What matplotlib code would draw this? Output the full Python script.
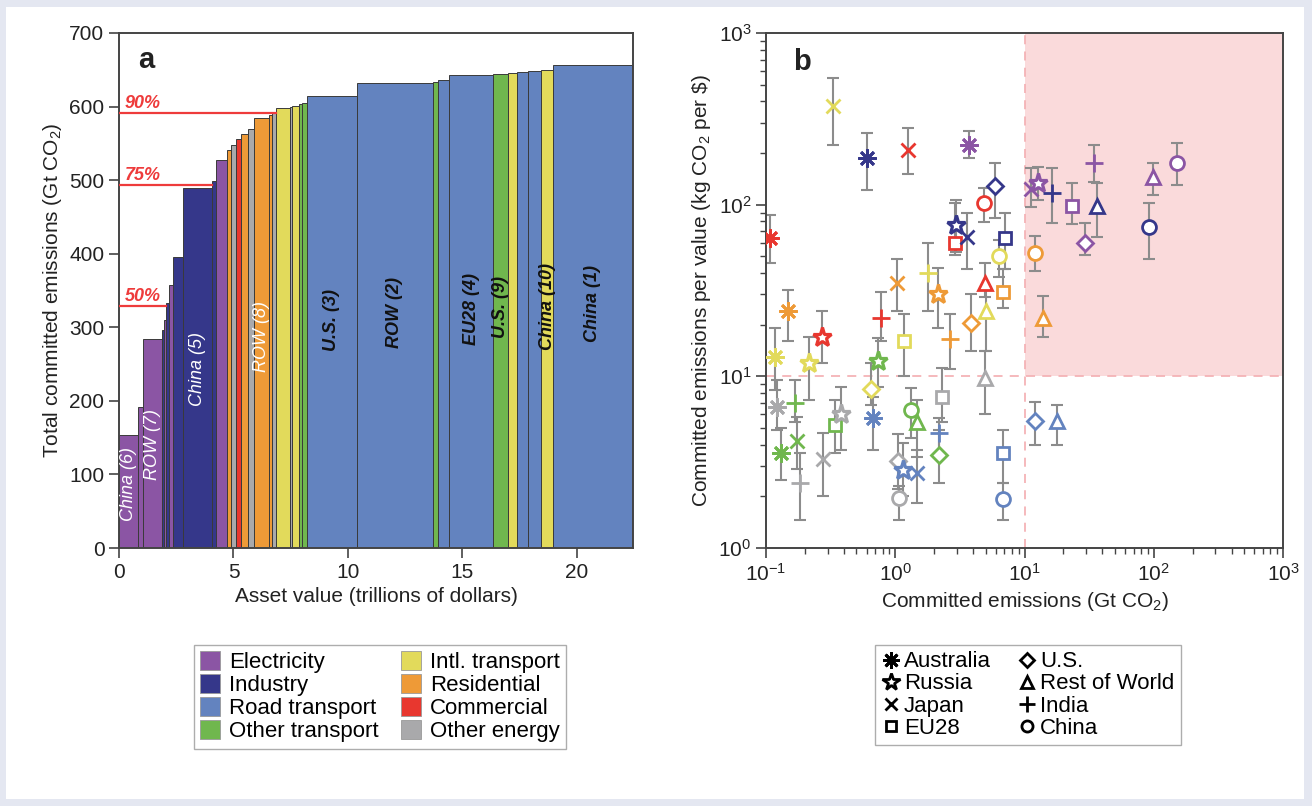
import matplotlib
matplotlib.use("Agg")
import matplotlib.pyplot as plt
import numpy as np
from matplotlib.patches import Patch, Rectangle
from matplotlib.lines import Line2D

plt.rcParams['font.family'] = ['Liberation Sans', 'DejaVu Sans']
plt.rcParams['mathtext.default'] = 'regular'

# Sectors (shared by both panels)
sector_names = ['Electricity', 'Industry', 'Road transport', 'Other transport',
                'Intl. transport', 'Residential', 'Commercial', 'Other energy']
sector_colors = ['#8b55a4', '#35378a', '#6383bf', '#70b74e',
                 '#e2da5b', '#ee9a37', '#e8372f', '#a9a9ab']

# Panel a: one bar per asset group (asset value in trillions $, emissions in Gt CO2)
a_sector = ['Electricity', 'Electricity', 'Electricity', 'Industry', 'Electricity',
            'Industry', 'Electricity', 'Industry', 'Industry', 'Industry',
            'Electricity', 'Residential', 'Other energy', 'Commercial', 'Residential',
            'Other energy', 'Residential', 'Residential', 'Other energy', 'Intl. transport',
            'Other energy', 'Intl. transport', 'Other transport', 'Other transport', 'Road transport',
            'Road transport', 'Other transport', 'Road transport', 'Road transport', 'Other transport',
            'Intl. transport', 'Road transport', 'Road transport', 'Intl. transport', 'Road transport']
a_value = [0.85, 0.20, 0.83, 0.09, 0.08, 0.13, 0.18, 0.43, 1.27, 0.18,
           0.48, 0.19, 0.22, 0.22, 0.30, 0.25, 0.65, 0.15, 0.15, 0.60,
           0.10, 0.30, 0.15, 0.20, 2.20, 3.30, 0.25, 0.45, 1.95, 0.65,
           0.40, 0.45, 0.60, 0.50, 3.45]
a_emis = [154, 38, 92, 12, 14, 23, 25, 37, 94, 10,
          29, 13, 7, 8, 7, 6, 15, 4, 3, 7,
          1, 2, 2, 2, 10, 17, 2, 2, 7, 1.5,
          1, 1, 1.5, 1.5, 7.5]

a_label_bar = [0, 2, 8, 16, 24, 25, 28, 29, 33, 34]
a_label_text = ['China (6)', 'ROW (7)', 'China (5)', 'ROW (8)', 'U.S. (3)',
                'ROW (2)', 'EU28 (4)', 'U.S. (9)', 'China (10)', 'China (1)']
a_label_y = [87, 140, 243, 288, 310, 320, 325, 328, 328, 333]
a_label_dark = [False, False, False, False, True, True, True, True, True, True]
pct_levels = [0.5, 0.75, 0.9]

# Panel b: committed emissions (Gt CO2) vs emissions per value (kg CO2 per $)
country_names = ['Australia', 'Russia', 'Japan', 'EU28', 'U.S.', 'Rest of World', 'India', 'China']
country_markers = [(8, 2, 0), '*', 'x', 's', 'D', '^', '+', 'o']

b_country = ['Japan', 'Australia', 'Japan', 'Australia', 'U.S.', 'China', 'Japan', 'Russia',
             'India', 'EU28', 'India', 'Rest of World', 'U.S.', 'China', 'Rest of World',
             'Rest of World', 'China', 'China', 'U.S.', 'Rest of World', 'Australia', 'Russia',
             'EU28', 'Japan', 'EU28', 'China', 'Rest of World', 'EU28', 'Rest of World', 'U.S.',
             'Rest of World', 'India', 'Russia', 'India', 'Japan', 'EU28', 'India', 'Russia',
             'U.S.', 'Australia', 'Australia', 'Russia', 'Australia', 'Russia', 'Australia',
             'India', 'Australia', 'Japan', 'India', 'Japan', 'EU28', 'Russia', 'U.S.',
             'Russia', 'Japan', 'China', 'China', 'Rest of World', 'EU28', 'India', 'U.S.',
             'EU28', 'China']
b_sector = ['Intl. transport', 'Industry', 'Commercial', 'Electricity', 'Industry', 'Commercial',
            'Electricity', 'Electricity', 'Industry', 'Electricity', 'Electricity', 'Industry',
            'Electricity', 'Residential', 'Residential', 'Electricity', 'Electricity', 'Industry',
            'Road transport', 'Road transport', 'Commercial', 'Industry', 'Commercial', 'Industry',
            'Industry', 'Intl. transport', 'Commercial', 'Residential', 'Intl. transport',
            'Residential', 'Other energy', 'Residential', 'Residential', 'Intl. transport',
            'Residential', 'Intl. transport', 'Commercial', 'Other transport', 'Intl. transport',
            'Road transport', 'Residential', 'Commercial', 'Intl. transport', 'Intl. transport',
            'Other energy', 'Other transport', 'Other transport', 'Other transport', 'Other energy',
            'Other energy', 'Other transport', 'Other energy', 'Other energy', 'Road transport',
            'Road transport', 'Other energy', 'Other transport', 'Other transport', 'Other energy',
            'Road transport', 'Other transport', 'Road transport', 'Road transport']
b_x = [0.33, 0.60, 1.26, 3.72, 5.91, 4.86, 11.2, 12.7, 16.3, 23.3, 34.5, 36.4, 29.4, 12.1,
       13.9, 98.7, 151, 91.9, 12.1, 17.8, 0.107, 2.95, 2.9, 3.59, 7.06, 6.35, 4.95, 6.82,
       5.04, 3.86, 4.95, 2.65, 2.14, 1.79, 1.03, 1.17, 0.776, 0.736, 0.649, 0.673, 0.148,
       0.271, 0.117, 0.215, 0.122, 0.168, 0.131, 0.174, 0.183, 0.276, 0.342, 0.38, 1.05,
       1.15, 1.47, 1.07, 1.32, 1.47, 2.3, 2.18, 2.18, 6.82, 6.82]
b_y = [376, 187, 208, 223, 128, 102, 123, 134, 117, 98, 175, 98, 60, 52, 21.9, 145, 175,
       74, 5.5, 5.5, 64, 76, 60, 65, 64, 50, 35, 31, 24, 20.5, 9.8, 16.5, 30, 40, 35, 16,
       22, 12.3, 8.4, 5.7, 24, 17, 13, 12, 6.6, 7.0, 3.6, 4.2, 2.4, 3.3, 5.2, 6.0, 3.2,
       2.85, 2.73, 1.96, 6.4, 5.4, 7.6, 4.7, 3.5, 3.6, 1.93]
b_hi = [547, 261, 280, 269, 175, 125, 164, 166, 164, 134, 223, 134, 78, 66, 29.4, 175, 229,
        102, 7.1, 6.8, 87, 106, 102, 89, 89, 62, 46, 42, 33, 30, 14, 23, 43, 60, 48, 23,
        31, 16.7, 12, 7.6, 32, 24, 19, 17, 9.5, 9.5, 5.0, 5.8, 3.6, 4.7, 7.3, 8.7, 4.6,
        4.1, 3.7, 2.3, 8.6, 7.3, 11.2, 5.7, 4.9, 4.9, 2.4]
b_lo = [222, 122, 151, 187, 84, 79, 97, 106, 78, 77, 136, 65, 51, 41, 16.9, 114, 130,
        48, 4.0, 4.0, 46, 53, 51, 42, 42, 38, 29, 25, 14, 14, 6, 11, 19, 24, 24, 10,
        16, 8.7, 6.8, 3.7, 16, 12, 8.3, 7.3, 4.9, 5.4, 2.5, 2.9, 1.46, 2.0, 3.6, 3.7, 2.2,
        2.0, 1.83, 1.46, 4.4, 3.4, 5.4, 3.4, 2.4, 2.4, 1.46]

color_of = dict(zip(sector_names, sector_colors))
marker_of = dict(zip(country_names, country_markers))

fig = plt.figure(figsize=(13.12, 8.06), dpi=100, facecolor='#e4e7f1')
fig.patches.append(Rectangle((6 / 1312, 7 / 806), 1298 / 1312, 792 / 806,
                             transform=fig.transFigure, facecolor='white',
                             edgecolor='none', zorder=-5))

txt_col = '#222222'
spine_col = '#444444'

# ---------------- Panel a ----------------
ax1 = fig.add_axes([119 / 1312, 258 / 806, 514 / 1312, 515 / 806])
left = np.concatenate([[0], np.cumsum(a_value)[:-1]])
top = np.cumsum(a_emis)
ax1.bar(left, top, width=a_value, align='edge',
        color=[color_of[s] for s in a_sector], edgecolor='#3a3a3a', linewidth=0.7)

for i, txt, yy, dark in zip(a_label_bar, a_label_text, a_label_y, a_label_dark):
    ax1.text(left[i] + a_value[i] / 2, yy, txt, rotation=90, ha='center', va='center',
             fontsize=13, fontstyle='italic', fontweight='bold' if dark else 'normal',
             color='#111111' if dark else 'white')

total = top[-1]
for frac in pct_levels:
    lev = frac * total
    i = int(np.argmax(top > lev))
    ax1.plot([0, left[i]], [lev, lev], color='#ee3b3b', lw=1.6, zorder=3)
    ax1.text(0.25, lev + 2, f'{int(frac * 100)}%', color='#ee3b3b', fontsize=13,
             fontweight='bold', fontstyle='italic', ha='left', va='bottom')

ax1.text(0.037, 0.932, 'a', transform=ax1.transAxes, fontsize=21, fontweight='bold',
         va='baseline', ha='left', color=txt_col)
ax1.set_xlim(0, 22.45)
ax1.set_ylim(0, 700)
ax1.set_xticks([0, 5, 10, 15, 20])
ax1.set_yticks(np.arange(0, 701, 100))
ax1.set_xlabel('Asset value (trillions of dollars)', fontsize=15, color=txt_col)
ax1.set_ylabel('Total committed emissions (Gt CO$_2$)', fontsize=15, color=txt_col)

# ---------------- Panel b ----------------
ax2 = fig.add_axes([766 / 1312, 258 / 806, 517 / 1312, 515 / 806])
ax2.set_xscale('log')
ax2.set_yscale('log')
ax2.add_patch(Rectangle((10, 10), 990, 990, facecolor='#fadadb', edgecolor='none', zorder=0))
ax2.plot([10, 10], [1, 1000], ls=(0, (5, 4)), color='#f4b3b6', lw=1.3, zorder=1)
ax2.plot([0.1, 1000], [10, 10], ls=(0, (5, 4)), color='#f4b3b6', lw=1.3, zorder=1)

for c, s, x, y, hi, lo in zip(b_country, b_sector, b_x, b_y, b_hi, b_lo):
    ax2.errorbar([x], [y], yerr=[[y - lo], [hi - y]], fmt='none', ecolor='#8c8c8c',
                 elinewidth=1.5, capsize=4, capthick=1.5, zorder=2)
    m = marker_of[c]
    ms = {'*': 14, 'D': 8, 's': 9, '^': 10, 'o': 10, 'x': 10, '+': 13}.get(m, 13)
    ax2.plot([x], [y], marker=m, ms=ms, color=color_of[s], mfc='white',
             mew=2.3 if m == '*' else 2, ls='none', zorder=3)

ax2.text(0.052, 0.928, 'b', transform=ax2.transAxes, fontsize=21, fontweight='bold',
         va='baseline', ha='left', color=txt_col)
ax2.set_xlim(0.1, 1000)
ax2.set_ylim(1, 1000)
ax2.set_xlabel('Committed emissions (Gt CO$_2$)', fontsize=15, color=txt_col)
ax2.set_ylabel(r'Committed emissions per value (kg CO$_2$ per \$)', fontsize=15, color=txt_col)

for ax in (ax1, ax2):
    for sp in ax.spines.values():
        sp.set_color(spine_col)
        sp.set_linewidth(1.4)
    ax.tick_params(which='major', direction='out', length=7, width=1.2,
                   labelsize=15, colors=spine_col, labelcolor=txt_col)
    ax.tick_params(which='minor', direction='out', length=4, width=1.0, colors=spine_col)

# ---------------- Legends ----------------
a_handles = [Patch(facecolor=c, edgecolor='#999999', linewidth=0.6) for c in sector_colors]
leg1 = fig.legend(a_handles, sector_names, loc='upper center', bbox_to_anchor=(0.2896, 0.214),
                  ncol=2, fontsize=16, frameon=True, fancybox=False, handlelength=0.9,
                  handleheight=0.9, handletextpad=0.4, columnspacing=1.0, labelspacing=0.05,
                  borderpad=0.3)
leg1.get_frame().set_edgecolor('#999999')
leg1.get_frame().set_linewidth(1.0)

b_handles = []
for m in country_markers:
    ms = {'*': 13, 'D': 7, 's': 7, '^': 9, 'o': 8, 'x': 9, '+': 12}.get(m, 12)
    b_handles.append(Line2D([], [], marker=m, ls='none', color='black', mfc='white',
                            mew=2, ms=ms))
leg2 = fig.legend(b_handles, country_names, loc='upper center', bbox_to_anchor=(0.7835, 0.214),
                  ncol=2, fontsize=16, frameon=True, fancybox=False, handlelength=0.8,
                  handletextpad=0.2, columnspacing=1.2, labelspacing=0.05, borderpad=0.3)
leg2.get_frame().set_edgecolor('#999999')
leg2.get_frame().set_linewidth(1.0)

fig.savefig('out.png', dpi=100, facecolor=fig.get_facecolor())
